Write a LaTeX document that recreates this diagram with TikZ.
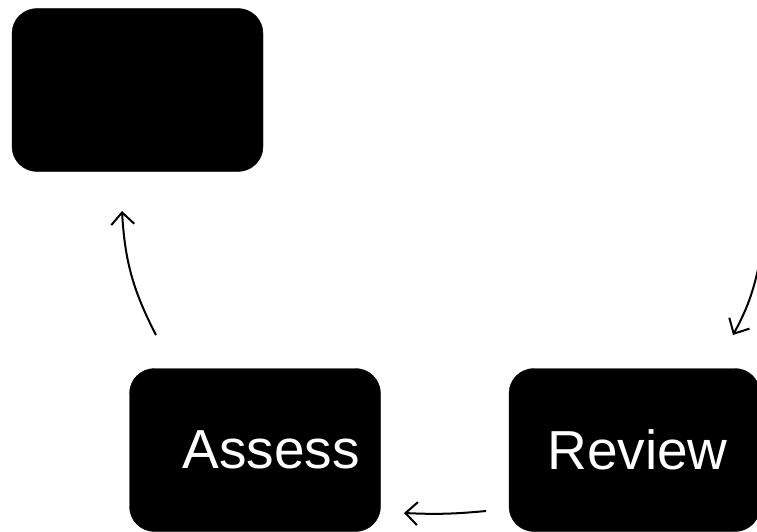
\documentclass[tikz,border=0pt]{standalone}
\usepackage{fontspec}
\setmainfont{Liberation Sans}
\usetikzlibrary{arrows.meta}

\begin{document}
\begin{tikzpicture}[x=1pt,y=-1pt,
  stage/.style={fill=black, draw=black, rounded corners=25pt, minimum width=251pt,
    minimum height=163pt, inner sep=0pt, text=white, font=\fontsize{55}{60}\selectfont},
  flow/.style={line width=2pt, -{Straight Barb[length=12pt,width=23pt,line width=2pt]}}]
\useasboundingbox (0,0) rectangle (757,532);

\node[stage] (plan) at (137.5,90) {};
\node[stage] (assess) at (255,450) {\hspace*{32pt}Assess};
\node[stage] (review) at (634.5,450) {\hspace*{6pt}Review};

% ends of the arrows
\coordinate (assessout) at (156,335);
\coordinate (planin) at (122,211);
\coordinate (topin) at (759,265);
\coordinate (reviewin) at (733,335);
\coordinate (reviewout) at (486,511);
\coordinate (assessin) at (404,513);

\draw[flow] (assessout) to[bend left=12] (planin);
\draw[flow] (topin) to[bend left=8] (reviewin);
\draw[flow] (reviewout) to[bend left=4] (assessin);
\end{tikzpicture}
\end{document}
